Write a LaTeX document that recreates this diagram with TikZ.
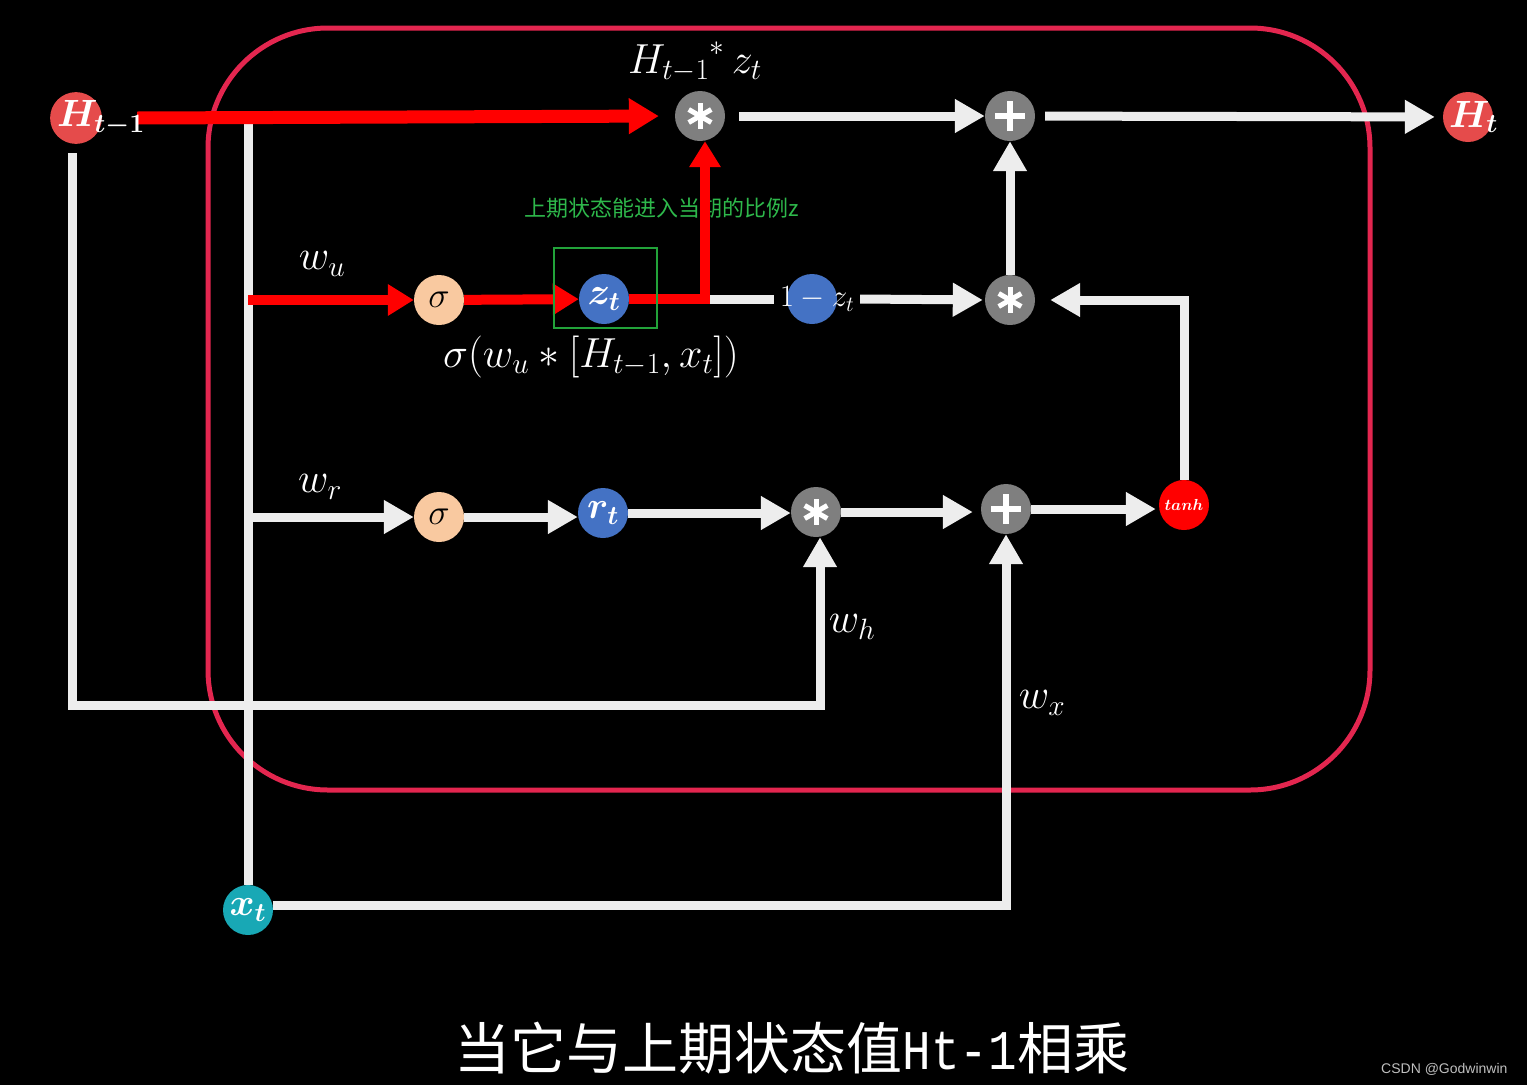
\RequirePackage{fix-cm}
\documentclass[tikz,border=0pt]{standalone}
\usepackage{amsmath}
\usepackage{mathtools}
\usepackage{fontspec}
\usepackage{graphicx}
\usetikzlibrary{arrows.meta,backgrounds}
\newfontfamily\cjk{Noto Sans CJK SC}
\newfontfamily\monoft{Liberation Mono}
\newfontfamily\wmfont{Liberation Sans}
\definecolor{framec}{HTML}{E3264F}
\definecolor{hred}{HTML}{E54B4B}
\definecolor{bluec}{HTML}{4472C4}
\definecolor{peach}{HTML}{F9C9A0}
\definecolor{grayc}{HTML}{7F7F7F}
\definecolor{tealc}{HTML}{18A8B5}
\definecolor{wc}{HTML}{EDEDED}
\definecolor{greent}{HTML}{2EB84B}
\definecolor{greenbox}{HTML}{22A33A}
\definecolor{wmgray}{HTML}{BFBFBF}
\tikzset{
  circ/.style={circle, minimum size=50pt, inner sep=0pt, text=white},
  hnode/.style={circ, fill=hred, font=\fontsize{38}{38}\selectfont\boldmath},
  bnode/.style={circ, fill=bluec, font=\fontsize{38}{38}\selectfont\boldmath},
  snode/.style={circ, fill=peach, text=black, font=\fontsize{36}{36}\selectfont},
  opmul/.style={circ, fill=grayc, path picture={
      \foreach \a in {90,30,-30}{
        \draw[white, line width=5pt] (path picture bounding box.center) ++(\a:13pt) -- ++(\a+180:26pt);}
    }},
  opplus/.style={circ, fill=grayc, path picture={
      \draw[white, line width=6pt] ([xshift=-15pt]path picture bounding box.center) -- ([xshift=15pt]path picture bounding box.center);
      \draw[white, line width=6pt] ([yshift=-15pt]path picture bounding box.center) -- ([yshift=15pt]path picture bounding box.center);
    }},
  wline/.style={draw=wc, line width=9pt},
  warr/.style={wline, -{Triangle[length=30pt,width=32pt]}},
  rline/.style={draw=red, line width=10pt},
  rarr/.style={rline, -{Triangle[length=26pt,width=30pt]}},
  lab/.style={text=white, font=\fontsize{42}{42}\selectfont},
}
\begin{document}
\begin{tikzpicture}[x=1pt,y=-1pt]
% nodes
\node[hnode] (Hprev) at (76,118) {$H_{\mathrlap{t-1}}$};
\node[opmul] (mulTop) at (700,116) {};
\node[opplus] (plusTop) at (1010,116) {};
\node[hnode] (Ht) at (1468,117) {$H_{\mathrlap{t}}$};
\node[snode] (sigU) at (439,300) {$\sigma$};
\node[bnode] (zt) at (604,299) {$z_t$};
\node[circ, fill=bluec, font=\fontsize{31}{31}\selectfont] (omz) at (812,299) {\makebox[0pt]{\hspace{10pt}$1-z_t$}};
\node[opmul] (mulMid) at (1010,300) {};
\node[snode] (sigR) at (439,517) {$\sigma$};
\node[bnode] (rt) at (603,513) {$r_t$};
\node[opmul] (mulR) at (816,512) {};
\node[opplus] (plusR) at (1006,509) {};
\node[circ, fill=red, font=\fontsize{16}{16}\selectfont\boldmath] (tanh) at (1184,505) {\makebox[0pt]{$tanh$}};
\node[circ, fill=tealc, font=\fontsize{38}{38}\selectfont\boldmath] (xt) at (248,910) {$x_t$};
% labels
\node[lab] (lHz) at (695,62) {${H_{t-1}}^{*}\,z_t$};
\node[lab] (lsig) at (591,357) {$\sigma(w_u * [H_{t-1},x_t])$};
\node[lab] (lwu) at (322,264) {$w_u$};
\node[lab] (lwr) at (320,487) {$w_r$};
\node[lab] (lwh) at (852,627) {$w_h$};
\node[lab] (lwx) at (1042,703) {$w_x$};
\node[draw=greenbox, line width=2pt, minimum width=103pt, minimum height=80pt, inner sep=0pt] (gbox) at (605.5,288) {};
\node[text=white, font=\cjk\fontsize{56}{56}\selectfont] (sub) at (792,1048) {当它与上期状态值{\monoft\scalebox{0.85}[1]{Ht-1}}相乘};
\node[anchor=east, text=wmgray, font=\wmfont\fontsize{14}{14}\selectfont] (wm) at (1511,1069) {CSDN @Godwinwin};
\begin{pgfonlayer}{background}
\fill[black] (0,0) rectangle (1527,1085);
\draw[framec, line width=5pt, rounded corners=120pt] (208,28) rectangle (1370,790);
\node[text=greent, font=\cjk\fontsize{22}{22}\selectfont] (gtxt) at (662,208) {上期状态能进入当期的比例z};
\coordinate (vtop) at (248,123);
\coordinate (zc) at (705,299);
\coordinate (lowc) at (820,705);
% white connectors
\draw[wline] (vtop) -- (xt.north);
\draw[warr] ([xshift=-4pt,yshift=-9pt]Hprev.south) |- (lowc) -- ([xshift=4pt]mulR.south);
\draw[warr] ([yshift=5pt]xt.east) -| (plusR.south);
\draw[warr] (vtop |- sigR) -- (sigR.west);
\draw[warr] (sigR.east) -- (sigR.east -| rt.west);
\draw[warr] (rt.east) -- (rt.east -| mulR.west);
\draw[warr] (mulR.east) -- ([xshift=-8pt]mulR.east -| plusR.west);
\draw[warr] (plusR.east) -- ([xshift=-3pt]plusR.east -| tanh.west);
\draw[warr] (tanh.north) |- ([xshift=15pt]mulMid.east);
\draw[warr] (mulMid) -- (plusTop);
\draw[warr, shorten <=14pt] (mulTop) -- (plusTop);
\draw[warr, shorten <=10pt, shorten >=8pt] (plusTop) -- (Ht);
\draw[wline] (zc) -- ([xshift=-13pt]omz.west);
\draw[warr, shorten >=2pt] ([xshift=23pt]omz.east) -- (mulMid.west);
% red connectors
\draw[rarr] (vtop |- sigU) -- (sigU);
\draw[rarr] (sigU) -- (zt);
\draw[rarr] (zt) -- (zc) -- (zc |- mulTop.south);
\draw[rline, line width=13pt, -{Triangle[length=30pt,width=34pt]}, shorten >=16pt] ([xshift=35pt]Hprev.east) -- (mulTop.west);
\end{pgfonlayer}
\end{tikzpicture}
\end{document}
